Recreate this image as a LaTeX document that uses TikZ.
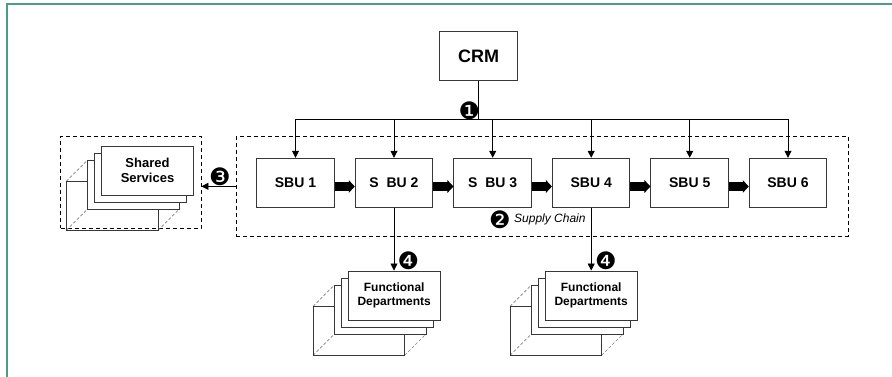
\documentclass[tikz,border=0pt]{standalone}
\usepackage{fontspec}
\setmainfont{Liberation Sans}
\newfontfamily\dvfont{DejaVu Sans}
\usetikzlibrary{arrows.meta}
\definecolor{frameg}{RGB}{76,158,130}
\definecolor{boxgray}{RGB}{55,55,55}
\tikzset{
  sbubox/.style={draw=boxgray, line width=1pt, fill=white, inner sep=0pt,
    minimum width=77.5pt, minimum height=49pt, font=\bfseries\fontsize{14}{16}\selectfont},
  crmbox/.style={sbubox, font=\bfseries\fontsize{18}{20}\selectfont},
  stackbox/.style={draw=boxgray, line width=0.9pt, fill=white, inner sep=0pt,
    minimum width=91.7pt, minimum height=49pt, align=center,
    font=\bfseries\fontsize{12}{14.5}\selectfont},
  conn/.style={draw=black, line width=0.8pt, -{Triangle[length=7pt,width=7pt]}},
  blockarrow/.style={draw=black, line width=8.5pt, -{Triangle[length=6pt,width=12.5pt]}},
  dashframe/.style={draw=black, dash pattern=on 4pt off 3pt, line width=0.8pt, inner sep=0pt},
  hiddenedge/.style={draw=gray, dash pattern=on 3pt off 2pt, line width=0.6pt},
  num/.style={font=\dvfont\fontsize{24}{24}\selectfont, inner sep=0pt},
}
\newcommand\mystack[5][]{%
  \begin{scope}[shift={(#2,#3)}]
    \draw[hiddenedge] (-81.15,10.8) -- (-59.85,-10.5)
                      (-81.15,59.8) -- (-59.85,38.5)
                      (10.55,59.8) -- (31.85,38.5);
    \draw[draw=boxgray, line width=0.9pt] (-81.15,10.8) rectangle (10.55,59.8);
    \node[stackbox] (#4c) at (-14,14) {};
    \node[stackbox] (#4b) at (-7,7) {};
    \node[stackbox, #1] (#4) at (0,0) {#5};
  \end{scope}}
\begin{document}
\begin{tikzpicture}[x=1pt, y=-1pt]
\useasboundingbox (0,0) rectangle (892,377);
% outer green frame
\draw[frameg, line width=1.7pt] (6.8,377) -- (6.8,4) -- (892,4);

% dashed frames
\node[dashframe, minimum width=612.3pt, minimum height=99.3pt] (big) at (542.15,186.35) {};
\node[dashframe, minimum width=140.5pt, minimum height=92.3pt] (sharedframe) at (130.75,182.15) {};

% CRM
\node[crmbox] (crm) at (478.5,56.5) {CRM};

% SBUs
\node[sbubox] (sbu1) at (295.5,182.8) {SBU 1};
\node[sbubox] (sbu2) at (394,182.8) {S~~BU 2};
\node[sbubox] (sbu3) at (492.7,182.8) {S~~BU 3};
\node[sbubox] (sbu4) at (591.2,182.8) {SBU 4};
\node[sbubox] (sbu5) at (689.7,182.8) {SBU 5};
\node[sbubox] (sbu6) at (788,182.8) {SBU 6};

% bus from CRM
\coordinate (bus) at (478.5,119);
\draw[line width=0.8pt] (crm.south) -- (crm.south |- bus);
\draw[line width=0.8pt] (sbu1.north |- bus) -- (sbu6.north |- bus);
\foreach \i in {1,...,6}{
  \draw[conn] (sbu\i.north |- bus) -- (sbu\i.north);
}

% supply chain block arrows
\foreach \i/\j in {1/2,2/3,3/4,4/5,5/6}{
  \draw[blockarrow] ([yshift=-3.7pt]sbu\i.east) -- ([yshift=-3.7pt]sbu\j.west);
}

% stacks
\mystack[font=\bfseries\fontsize{13}{15.5}\selectfont]{147.5}{170.5}{shared}{Shared\\Services}
\mystack{394.2}{295.5}{fdA}{Functional\\Departments}
\mystack{591.2}{295.5}{fdB}{Functional\\Departments}

% arrows to functional departments and shared services
\draw[conn] (sbu2.south) -- (sbu2.south |- fdA.north);
\draw[conn] (sbu4.south) -- (sbu4.south |- fdB.north);
\draw[conn] (big.west) -- (big.west -| sharedframe.east);

% numbers
\node[num] (n1) at (469.3,110.3) {❶};
\node[num] (n2) at (500,219.3) {❷};
\node[anchor=west, inner sep=0pt, font=\itshape\fontsize{12}{14}\selectfont] (sc) at (514,219.8) {Supply Chain};
\node[num] (n3) at (220,176.7) {❸};
\node[num] (n4a) at (408.3,261) {❹};
\node[num] (n4b) at (606,261) {❹};
\end{tikzpicture}
\end{document}
